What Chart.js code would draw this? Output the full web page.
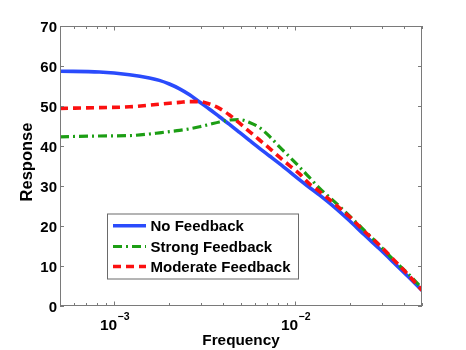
<!DOCTYPE html>
<html><head><meta charset="utf-8">
<script src="https://cdn.jsdelivr.net/npm/chart.js@4"></script>
<style>html,body{margin:0;padding:0;background:#fff}#wrap{width:466px;height:350px}</style>
</head><body><div id="wrap"><canvas id="c" width="466" height="350"></canvas></div>
<script>
// ---- data ----
const frequency = [5e-4, 8.26e-4, 1.21e-3, 1.56e-3, 1.77e-3, 2.01e-3, 2.29e-3, 2.60e-3, 2.95e-3, 3.35e-3, 3.80e-3, 4.32e-3, 4.91e-3, 5.57e-3, 6.33e-3, 7.19e-3, 8.16e-3, 9.27e-3, 1.05e-2, 1.19e-2, 1.36e-2, 1.64e-2, 1.99e-2, 2.40e-2, 2.91e-2, 3.52e-2, 4.27e-2, 5e-2];
const noFeedback = [58.7, 58.5, 57.8, 57.0, 56.4, 55.5, 54.3, 52.8, 51.0, 49.2, 47.3, 45.4, 43.4, 41.4, 39.4, 37.5, 35.6, 33.6, 31.6, 29.7, 27.7, 24.7, 21.3, 17.8, 14.3, 10.7, 7.0, 3.9];
const strongFeedback = [42.3, 42.5, 42.6, 43.0, 43.3, 43.6, 43.9, 44.3, 44.8, 45.4, 46.0, 46.5, 46.6, 45.9, 44.6, 42.4, 39.8, 37.3, 34.8, 32.2, 29.4, 26.1, 22.5, 18.9, 15.2, 11.3, 7.7, 4.4];
const moderateFeedback = [49.4, 49.6, 49.8, 50.2, 50.45, 50.7, 50.9, 51.1, 51.1, 50.5, 49.4, 47.75, 45.7, 43.6, 41.5, 39.4, 37.2, 35.1, 33.1, 30.6, 28.6, 25.6, 22.3, 18.7, 15.2, 11.4, 7.4, 3.9];
const seriesNames = ['No Feedback', 'Strong Feedback', 'Moderate Feedback'];
const yTicks = [0, 10, 20, 30, 40, 50, 60, 70];
const xMajorTicks = [1e-3, 1e-2];
const xMajorExponents = ['\u22123', '\u22122'];
const xMinorTicks = [5e-4, 6e-4, 7e-4, 8e-4, 9e-4, 2e-3, 3e-3, 4e-3, 5e-3, 6e-3, 7e-3, 8e-3, 9e-3, 2e-2, 3e-2, 4e-2, 5e-2];
const xTitle = 'Frequency';
const yTitle = 'Response';

const FONT = "'Liberation Sans', Arial, Helvetica, sans-serif";
const AXIS_COLOR = '#7a7a7a';

function pts(vals) { return frequency.map((f, i) => ({x: f, y: vals[i]})); }

const styles = [
  {color: '#2a4bfc', dash: [], width: 3.6, order: 3},
  {color: '#1c9e14', dash: [9, 4, 2, 4], width: 3.2, order: 2},
  {color: '#fb1010', dash: [8, 5], width: 3.6, order: 1}
];
const seriesValues = [noFeedback, strongFeedback, moderateFeedback];

const overlay = {
  id: 'overlay',
  afterDatasetsDraw(chart) {
    const ctx = chart.ctx;
    const a = chart.chartArea;
    const xs = chart.scales.x, ys = chart.scales.y;
    ctx.save();
    // box
    ctx.strokeStyle = AXIS_COLOR;
    ctx.lineWidth = 1;
    ctx.strokeRect(Math.round(a.left) + 0.5, Math.round(a.top) + 0.5, Math.round(a.right - a.left) - 1, Math.round(a.bottom - a.top) - 1);
    // y ticks
    ctx.beginPath();
    yTicks.forEach(v => {
      const y = Math.round(ys.getPixelForValue(v)) + 0.5;
      ctx.moveTo(a.left, y); ctx.lineTo(a.left + 4, y);
      ctx.moveTo(a.right, y); ctx.lineTo(a.right - 4, y);
    });
    // x ticks
    const xt = (v, len) => {
      const x = Math.round(xs.getPixelForValue(v)) + 0.5;
      ctx.moveTo(x, a.bottom); ctx.lineTo(x, a.bottom - len);
      ctx.moveTo(x, a.top); ctx.lineTo(x, a.top + len);
    };
    xMajorTicks.forEach(v => xt(v, 4.5));
    xMinorTicks.forEach(v => xt(v, 3));
    ctx.stroke();

    // y tick labels
    ctx.fillStyle = '#000';
    ctx.font = 'bold 15px ' + FONT;
    ctx.textAlign = 'right';
    ctx.textBaseline = 'alphabetic';
    yTicks.forEach(v => {
      ctx.fillText(String(v), a.left - 3, ys.getPixelForValue(v) + 6.2);
    });
    // x tick labels with superscript
    xMajorTicks.forEach((v, i) => {
      const x = xs.getPixelForValue(v);
      ctx.font = 'bold 15.5px ' + FONT;
      const wb = ctx.measureText('10').width;
      ctx.font = 'bold 10.5px ' + FONT;
      const we = ctx.measureText(xMajorExponents[i]).width;
      const left = x - (wb + we) / 2;
      ctx.textAlign = 'left';
      ctx.font = 'bold 15.5px ' + FONT;
      ctx.fillText('10', left, a.bottom + 24);
      ctx.font = 'bold 10.5px ' + FONT;
      ctx.fillText(xMajorExponents[i], left + wb + 0.5, a.bottom + 14);
    });
    // axis titles
    ctx.font = 'bold 15.3px ' + FONT;
    ctx.textAlign = 'center';
    ctx.fillText(xTitle, (a.left + a.right) / 2, a.bottom + 39);
    ctx.save();
    ctx.translate(32, 162);
    ctx.rotate(-Math.PI / 2);
    ctx.font = 'bold 16.5px ' + FONT;
    ctx.fillText(yTitle, 0, 0);
    ctx.restore();

    // legend
    const lx = 107, ly = 213.5, lw = 191, lh = 65;
    ctx.fillStyle = '#fff';
    ctx.fillRect(lx, ly, lw, lh);
    ctx.strokeStyle = '#6a6a6a';
    ctx.lineWidth = 1;
    ctx.strokeRect(lx + 0.5, ly + 0.5, lw, lh);
    const rows = [225.7, 246.5, 266.5];
    chart.data.datasets.forEach((ds, i) => {
      const cy = rows[i];
      ctx.save();
      ctx.strokeStyle = ds.borderColor;
      ctx.lineWidth = ds.borderWidth;
      ctx.setLineDash(ds.borderDash || []);
      ctx.beginPath();
      ctx.moveTo(113, cy); ctx.lineTo(146, cy);
      ctx.stroke();
      ctx.restore();
      ctx.fillStyle = '#000';
      ctx.font = 'bold 15px ' + FONT;
      ctx.textAlign = 'left';
      ctx.fillText(ds.label, 150.5, cy + 5.5);
    });
    ctx.restore();
  }
};

new Chart(document.getElementById('c'), {
  type: 'line',
  data: {
    datasets: seriesNames.map((name, i) => ({
      label: name,
      data: pts(seriesValues[i]),
      borderColor: styles[i].color,
      backgroundColor: styles[i].color,
      borderWidth: styles[i].width,
      borderDash: styles[i].dash,
      pointRadius: 0,
      fill: false,
      cubicInterpolationMode: 'monotone',
      order: styles[i].order
    }))
  },
  options: {
    responsive: false,
    animation: false,
    devicePixelRatio: 1,
    layout: {padding: {left: 0, top: 26, right: 44, bottom: 0}},
    plugins: {legend: {display: false}, tooltip: {enabled: false}},
    scales: {
      x: {
        type: 'logarithmic', min: 5e-4, max: 5e-2,
        grid: {display: false, drawTicks: false}, border: {display: false},
        ticks: {display: false},
        afterFit(s) { s.height = 44; }
      },
      y: {
        type: 'linear', min: 0, max: 70,
        grid: {display: false, drawTicks: false}, border: {display: false},
        ticks: {display: false},
        afterFit(s) { s.width = 60; }
      }
    }
  },
  plugins: [overlay]
});
</script>
</body></html>
